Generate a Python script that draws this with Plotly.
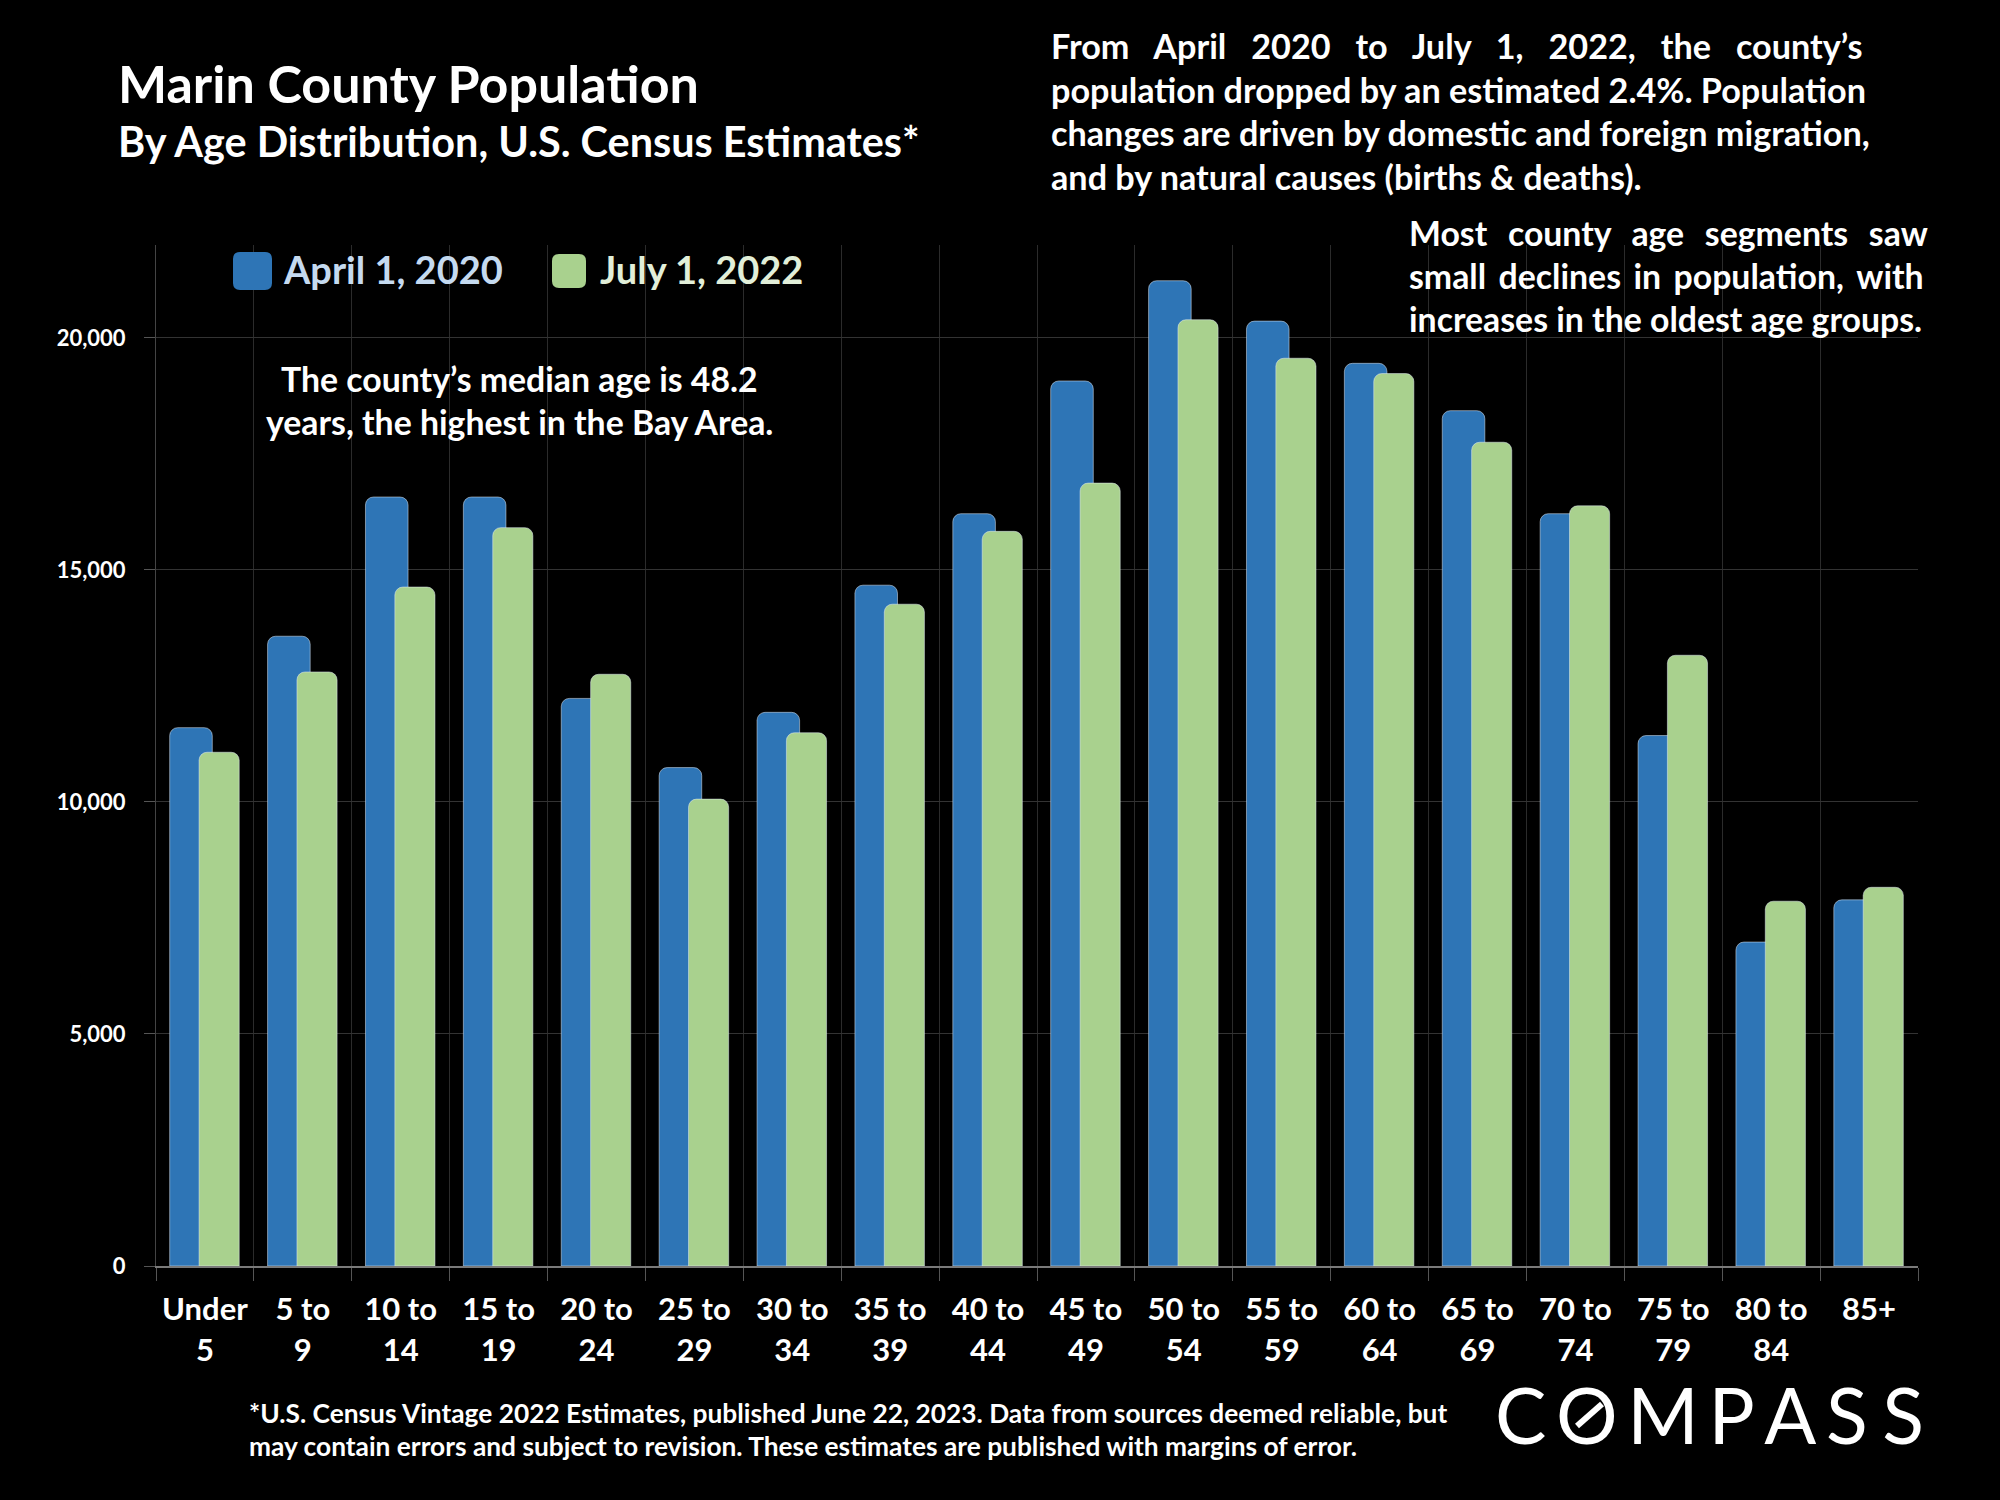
import plotly.graph_objects as go

age_groups = ["Under<br>5", "5 to<br>9", "10 to<br>14", "15 to<br>19", "20 to<br>24", "25 to<br>29",
              "30 to<br>34", "35 to<br>39", "40 to<br>44", "45 to<br>49", "50 to<br>54", "55 to<br>59",
              "60 to<br>64", "65 to<br>69", "70 to<br>74", "75 to<br>79", "80 to<br>84", "85+"]
april_2020 = [11600, 13570, 16570, 16570, 12230, 10740, 11930, 14670, 16210,
              19070, 21230, 20360, 19450, 18430, 16210, 11430, 6980, 7890]
july_2022 = [11070, 12800, 14630, 15910, 12750, 10060, 11490, 14260, 15830,
             16870, 20390, 19560, 19230, 17750, 16380, 13160, 7860, 8160]

W, H = 2000, 1500
FONT = "Lato"
BLUE = "#2e75b6"
GREEN = "#a9d18e"


def px(x):
    return x / W


def py(y):
    return 1 - y / H


def add_text(fig, x, y, text, size, color="white", anchor="left", weight=700, family=FONT):
    fig.add_annotation(xref="paper", yref="paper", x=px(x), y=py(y), text=text, showarrow=False,
                       xanchor=anchor, yanchor="middle", align=anchor,
                       font=dict(family=family, size=size, color=color, weight=weight))


def rounded_box(x0, y0, x1, y1, r):
    # rounded rectangle path, given in picture pixels
    return (f"M {px(x0 + r)} {py(y0)} L {px(x1 - r)} {py(y0)} Q {px(x1)} {py(y0)} {px(x1)} {py(y0 + r)} "
            f"L {px(x1)} {py(y1 - r)} Q {px(x1)} {py(y1)} {px(x1 - r)} {py(y1)} "
            f"L {px(x0 + r)} {py(y1)} Q {px(x0)} {py(y1)} {px(x0)} {py(y1 - r)} "
            f"L {px(x0)} {py(y0 + r)} Q {px(x0)} {py(y0)} {px(x0 + r)} {py(y0)} Z")


fig = go.Figure()
fig.add_bar(x=age_groups, y=april_2020, name="April 1, 2020", marker_color=BLUE, width=0.435, offset=-0.36)
fig.add_bar(x=age_groups, y=july_2022, name="July 1, 2022", marker_color=GREEN, width=0.41, offset=-0.06)

fig.update_layout(
    width=W, height=H, margin=dict(l=0, r=0, t=0, b=0),
    paper_bgcolor="black", plot_bgcolor="black",
    barmode="overlay", barcornerradius=8, showlegend=False,
    font=dict(family=FONT, color="white"),
    xaxis=dict(domain=[px(156), px(1918)], type="category", tickson="boundaries", ticks="outside",
               ticklen=13, tickcolor="#555555", tickwidth=1, showgrid=True, gridcolor="#2b2b2b", gridwidth=1,
               showline=True, linecolor="#7a7a7a", linewidth=2, automargin=False, ticklabelstandoff=15,
               tickfont=dict(family=FONT, size=31, color="white", weight=700), tickangle=0),
    yaxis=dict(domain=[py(1266), py(245)], range=[0, 22000], tickvals=[0, 5000, 10000, 15000, 20000],
               tickformat=",d", ticks="outside", ticklen=11, tickcolor="#555555", showgrid=True,
               gridcolor="#333333", gridwidth=1, showline=True, linecolor="#444444", linewidth=1, zeroline=False,
               automargin=False, ticklabelstandoff=14,
               tickfont=dict(family=FONT, size=22, color="white", weight=700)),
)

# black panels that cut the grid behind the legend and the notes
for x0, y0, x1, y1 in [(158, 240, 900, 316), (158, 347, 800, 453), (1388, 230, 1960, 352)]:
    fig.add_shape(type="rect", xref="paper", yref="paper", x0=px(x0), x1=px(x1), y0=py(y0), y1=py(y1),
                  fillcolor="black", line_width=0, layer="between")

# legend
for x0, y0, x1, y1, color in [(233, 252, 272, 290, BLUE), (552, 254, 586, 288, GREEN)]:
    fig.add_shape(type="path", xref="paper", yref="paper", path=rounded_box(x0, y0, x1, y1, 7),
                  fillcolor=color, line_width=0, layer="above")
add_text(fig, 281, 269, "April 1, 2020", 38, "#c5daf0")
add_text(fig, 598, 269, "July 1, 2022", 38, "#e2efd9")

add_text(fig, 116, 83, "Marin County Population", 52)
add_text(fig, 116, 141, "By Age Distribution, U.S. Census Estimates*", 41.4)

note_top = ["From\u00a0\u00a0\u00a0April\u00a0\u00a0\u00a02020\u00a0\u00a0\u00a0to\u00a0\u00a0\u00a0July\u00a0\u00a0\u00a01,\u00a0\u00a0\u00a02022,\u00a0\u00a0\u00a0the\u00a0\u00a0\u00a0county\u2019s",
            "population dropped by an estimated 2.4%. Population",
            "changes are driven by domestic and foreign migration,",
            "and by natural causes (births &amp; deaths)."]
for i, line in enumerate(note_top):
    add_text(fig, 1049, 46 + i * 43.4, line, 34.2)

note_right = ["Most\u00a0\u00a0\u200a\u200acounty\u00a0\u00a0\u200a\u200aage\u00a0\u00a0\u200a\u200asegments\u00a0\u00a0\u200a\u200asaw",
              "small\u00a0\u200a\u200adeclines\u00a0\u200a\u200ain\u00a0\u200a\u200apopulation,\u00a0\u200a\u200awith",
              "increases in the oldest age groups."]
for i, line in enumerate(note_right):
    add_text(fig, 1407, 232.5 + i * 43.4, line, 33.8)

add_text(fig, 519, 379, "The county\u2019s median age is 48.2", 33.8, anchor="center")
add_text(fig, 519, 422, "years, the highest in the Bay Area.", 33.8, anchor="center")

add_text(fig, 247, 1413, "*U.S. Census Vintage 2022 Estimates, published June 22, 2023. Data from sources deemed reliable, but", 26.3)
add_text(fig, 247, 1446, "may contain errors and subject to revision. These estimates are published with margins of error.", 26.3)

add_text(fig, 1493, 1414, "C\u200a\u200aO\u200a\u200aM\u200a\u200aP\u200a\u200aA\u200a\u200aS\u200a\u200a\u200aS", 77, weight=400)
fig.add_shape(type="line", xref="paper", yref="paper", x0=px(1577), x1=px(1602), y0=py(1426), y1=py(1404),
              line=dict(color="white", width=6), layer="above")

fig.write_html("out.html", config=dict(displayModeBar=False), post_script="document.body.style.margin='0';")
